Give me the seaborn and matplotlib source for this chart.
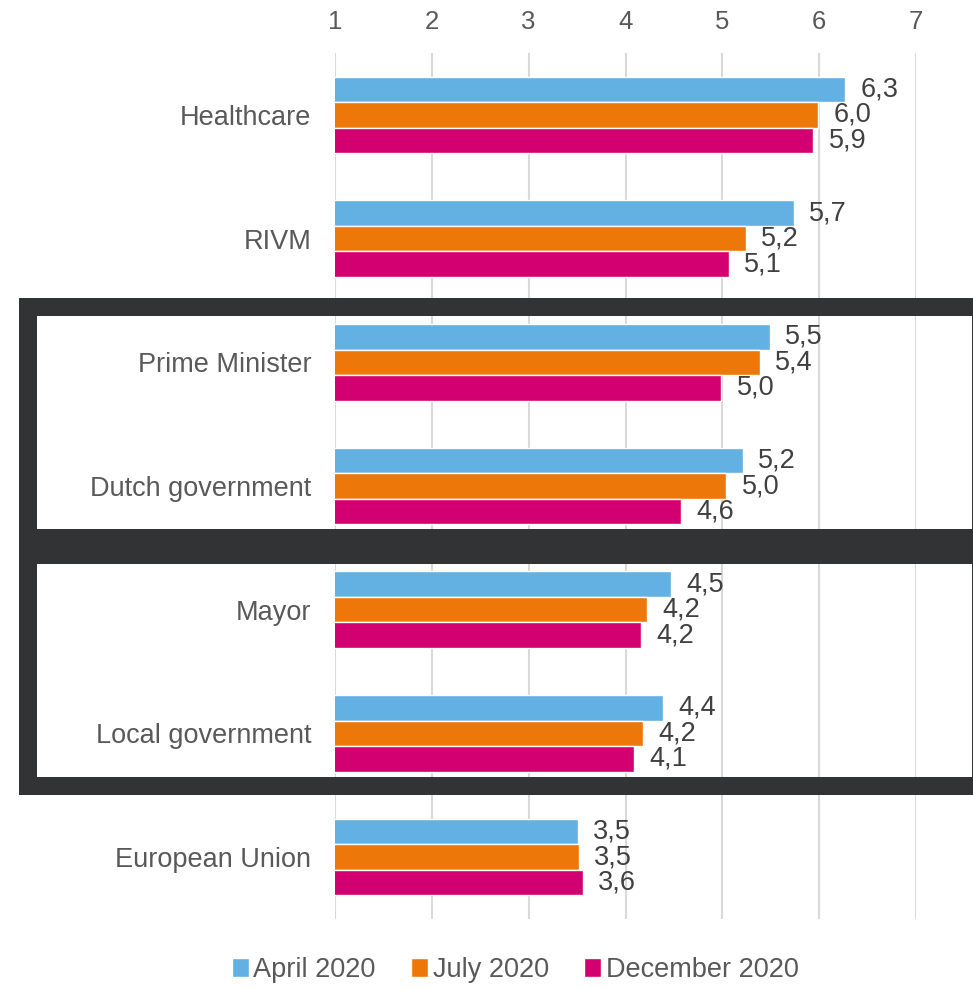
import pandas as pd
import matplotlib
matplotlib.use("Agg")
import matplotlib.pyplot as plt
import seaborn as sns
from matplotlib.patches import Rectangle

# data
institutions = ["Healthcare", "RIVM", "Prime Minister", "Dutch government",
                "Mayor", "Local government", "European Union"]
periods = ["April 2020", "July 2020", "December 2020"]
april = [6.27, 5.74, 5.49, 5.21, 4.47, 4.39, 3.51]
july = [5.99, 5.24, 5.39, 5.04, 4.22, 4.18, 3.52]
december = [5.94, 5.07, 4.99, 4.57, 4.16, 4.09, 3.56]
colors = ["#63B0E3", "#ED7709", "#D20070"]

df = pd.DataFrame({
    "Institution": institutions * 3,
    "Period": [p for p in periods for _ in institutions],
    "Score": april + july + december,
})

sns.set_style("white")
plt.rcParams["font.family"] = ["Liberation Sans", "DejaVu Sans"]

W, H = 973, 988
fig = plt.figure(figsize=(W / 100, H / 100), dpi=100)
ax = fig.add_axes([335 / W, 1 - 919 / H, (916 - 335) / W, (919 - 53) / H])

sns.barplot(data=df, y="Institution", x="Score", hue="Period", orient="h",
            order=institutions, hue_order=periods, palette=colors,
            width=0.62, saturation=1, ax=ax, zorder=2)

ax.set_xlim(1, 7)
ax.set_xticks(range(1, 8))
ax.xaxis.tick_top()
ax.set_xlabel("")
ax.set_ylabel("")
ax.grid(axis="x", color="#D9D9D9", linewidth=1.5, zorder=0)
ax.set_axisbelow(True)
sns.despine(ax=ax, left=True, bottom=True, top=True, right=True)
ax.tick_params(axis="x", length=0, pad=14, labelsize=18.5, labelcolor="#595959")
ax.tick_params(axis="y", length=0, pad=17, labelsize=19.5, labelcolor="#595959")

# data labels with decimal comma
for cont in ax.containers:
    labels = [f"{v:.1f}".replace(".", ",") for v in cont.datavalues]
    ax.bar_label(cont, labels=labels, padding=11, fontsize=19.5,
                 color="#404040", clip_on=False)

# legend at the bottom
handles, labels = ax.get_legend_handles_labels()
ax.get_legend().remove()
fig.legend(handles, labels, loc="center", bbox_to_anchor=(515 / W, 1 - 970 / H),
           ncol=3, frameon=False, fontsize=19.5, labelcolor="#595959",
           handlelength=0.65, handleheight=0.65, handletextpad=0.15,
           columnspacing=1.3)

# dark frames around the two groups, drawn as solid bands
dark = "#323335"
bands = [
    (19, 298, 990, 316),   # top
    (19, 529, 990, 564),   # middle
    (19, 777, 990, 795),   # bottom
    (19, 298, 37, 795),    # left
    (972, 298, 990, 795),  # right
]
for x0, y0, x1, y1 in bands:
    fig.patches.append(Rectangle((x0 / W, 1 - y1 / H), (x1 - x0) / W, (y1 - y0) / H,
                                 transform=fig.transFigure, facecolor=dark,
                                 edgecolor="none", zorder=10))

fig.savefig("out.png", dpi=100)
